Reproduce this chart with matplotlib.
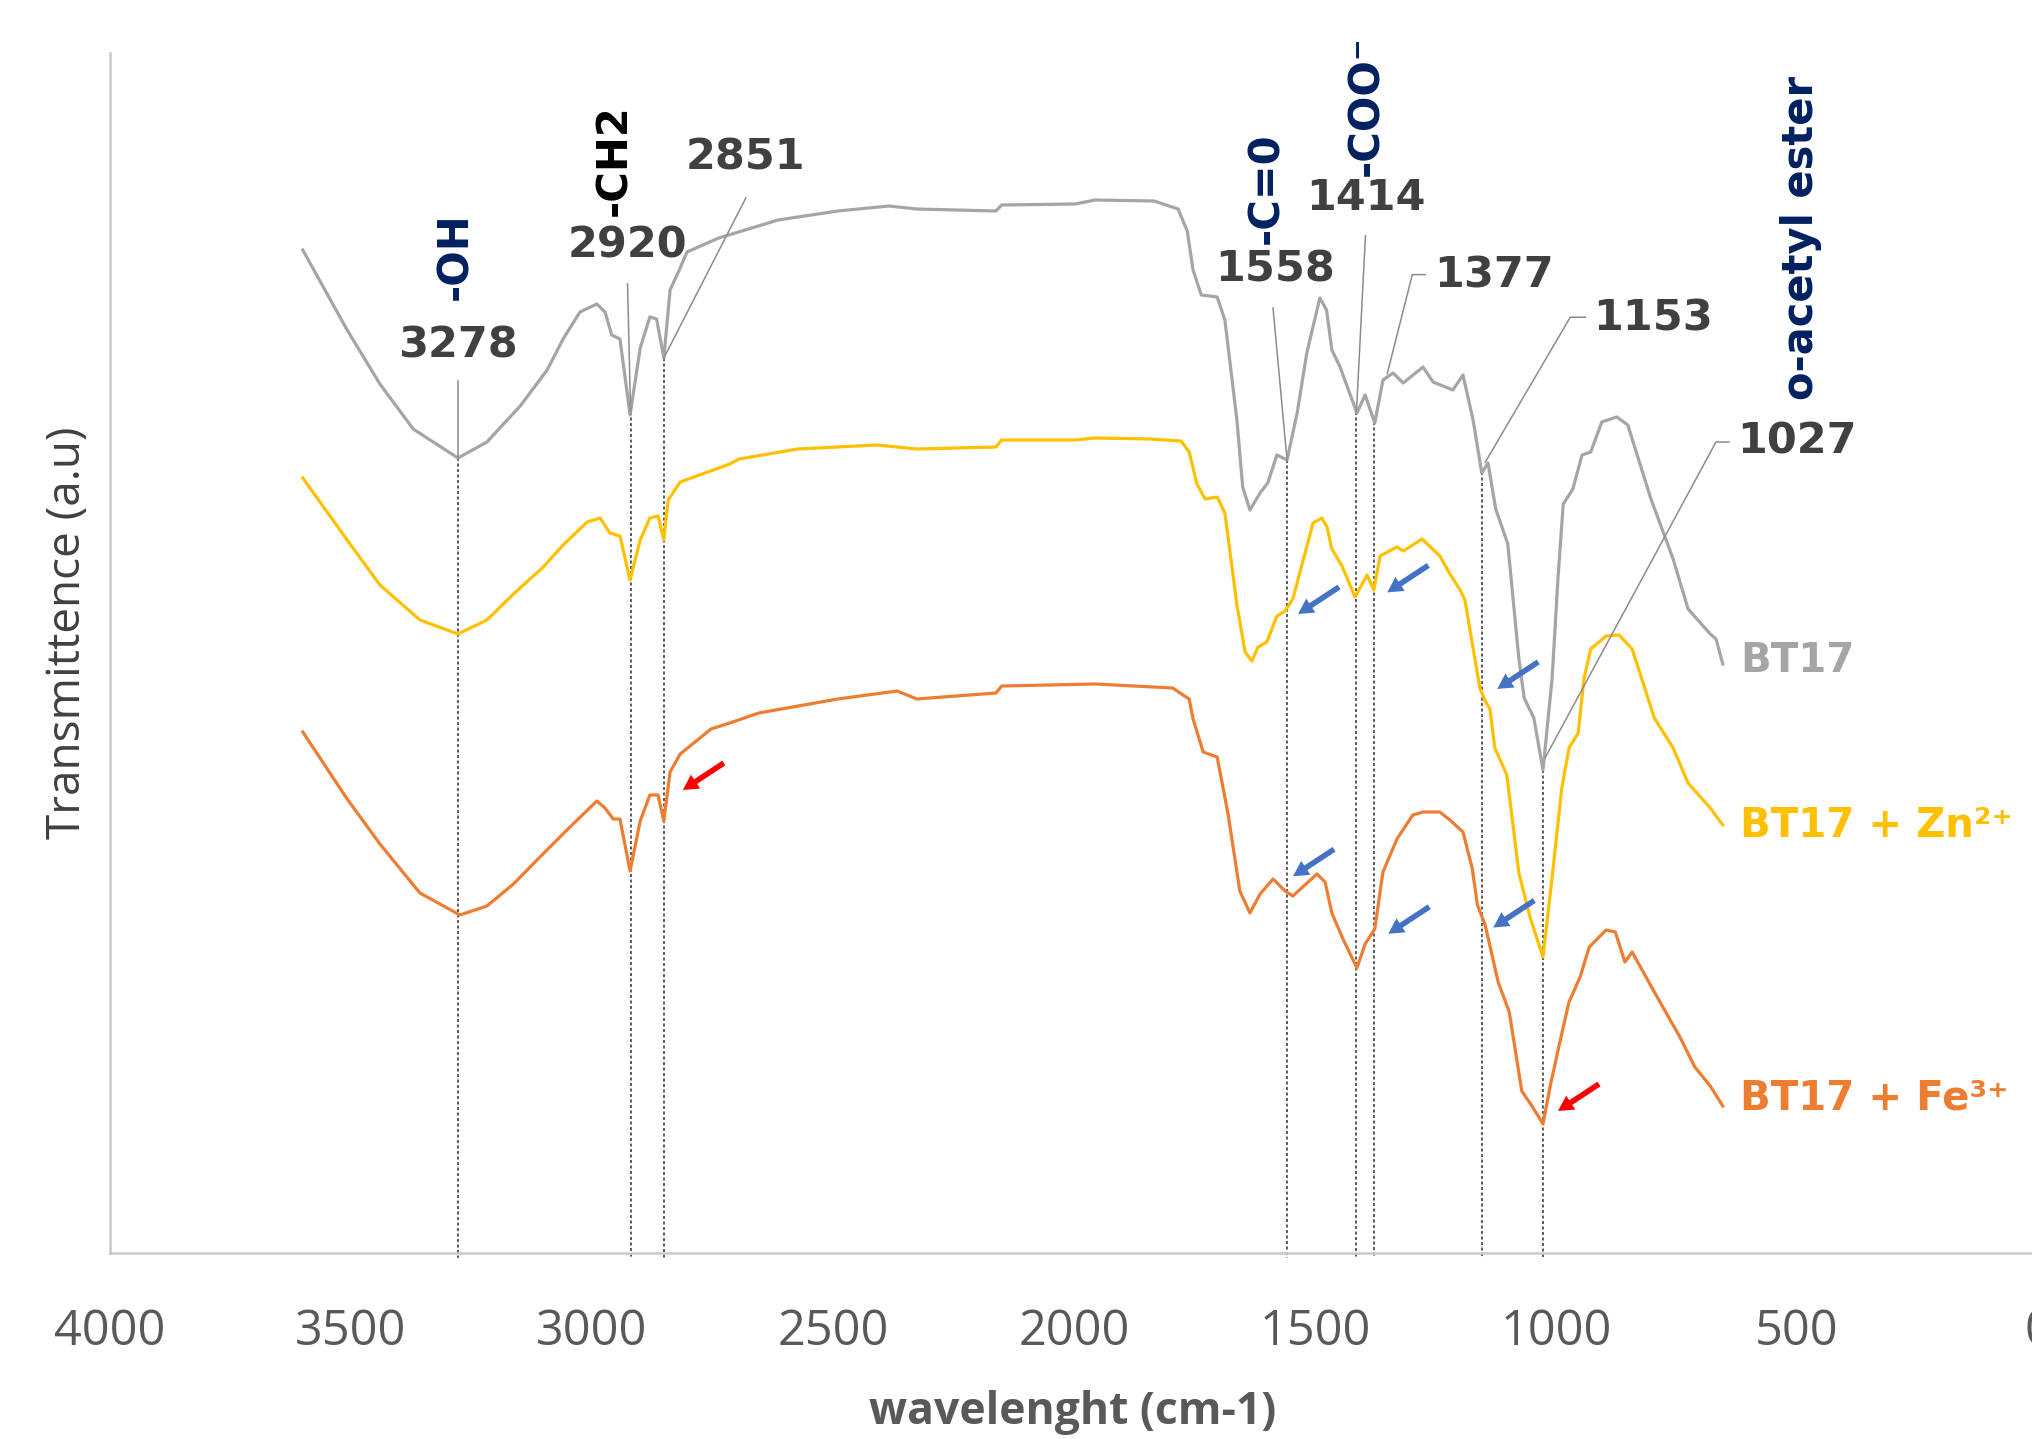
import numpy as np
import matplotlib
matplotlib.use("Agg")
import matplotlib.pyplot as plt

# FTIR spectra: wavenumber (cm-1) and transmittance (a.u.)
wn_bt17 = [3600, 3508, 3440, 3371, 3278, 3218, 3149, 3093, 3060, 3025,
           2990, 2973, 2959, 2942, 2921, 2900, 2880, 2866, 2851, 2838,
           2817, 2803, 2737, 2614, 2490, 2384, 2326, 2162, 2150, 1998,
           1956, 1834, 1784, 1765, 1753, 1736, 1703, 1687, 1662, 1650,
           1635, 1614, 1598, 1579, 1558, 1537, 1517, 1490, 1476, 1465,
           1448, 1413, 1396, 1376, 1359, 1338, 1317, 1276, 1255, 1214,
           1193, 1172, 1154, 1141, 1125, 1100, 1077, 1066, 1046, 1027,
           1008, 996, 985, 965, 946, 928, 905, 874, 851, 803,
           757, 726, 680, 668, 654]
t_bt17 = [100.3, 92.3, 86.9, 82.4, 79.5, 81.1, 84.7, 88.3, 91.4, 94.1,
          94.9, 94.1, 91.8, 91.4, 83.8, 90.5, 93.6, 93.4, 89.5, 96.3,
          98.5, 100.1, 101.5, 103.3, 104.2, 104.7, 104.4, 104.2, 104.8, 104.9,
          105.3, 105.2, 104.4, 102.2, 98.3, 95.8, 95.6, 93.3, 83.3, 76.6,
          74.3, 76.0, 77.0, 79.8, 79.3, 84.0, 90.0, 95.5, 94.3, 90.3,
          88.6, 84.0, 85.8, 83.0, 87.3, 88.0, 87.0, 88.6, 87.1, 86.3,
          87.8, 83.3, 78.0, 79.0, 74.4, 70.9, 59.4, 55.5, 53.5, 48.3,
          57.5, 67.4, 74.9, 76.4, 79.8, 80.1, 83.1, 83.6, 82.8, 75.4,
          69.4, 64.4, 61.9, 61.4, 58.9]

wn_zn = [3600, 3508, 3440, 3357, 3278, 3218, 3163, 3101, 3060, 3010,
         2983, 2963, 2942, 2921, 2900, 2880, 2863, 2851, 2842, 2817,
         2714, 2695, 2573, 2409, 2326, 2162, 2150, 1998, 1956, 1842,
         1778, 1761, 1745, 1728, 1703, 1687, 1662, 1645, 1631, 1618,
         1600, 1579, 1562, 1546, 1525, 1504, 1486, 1475, 1465, 1444,
         1417, 1392, 1378, 1365, 1330, 1317, 1278, 1241, 1220, 1199,
         1189, 1158, 1147, 1137, 1127, 1102, 1077, 1054, 1027, 1008,
         988, 973, 954, 942, 928, 896, 869, 842, 796, 757,
         726, 680, 654]
t_zn = [77.5, 71.3, 66.8, 63.3, 61.9, 63.3, 65.9, 68.6, 70.8, 73.1,
        73.5, 72.0, 71.7, 67.3, 71.3, 73.5, 73.7, 71.3, 75.3, 77.1,
        78.9, 79.4, 80.4, 80.8, 80.4, 80.6, 81.3, 81.3, 81.5, 81.4,
        81.2, 80.1, 76.9, 75.4, 75.6, 74.0, 64.8, 60.1, 59.2, 60.6,
        61.1, 63.7, 64.2, 65.4, 69.2, 73.0, 73.5, 72.6, 70.4, 68.7,
        65.6, 67.8, 66.3, 69.7, 70.6, 70.2, 71.4, 69.7, 67.9, 66.3,
        65.3, 56.5, 55.2, 54.4, 50.5, 47.8, 38.0, 33.6, 29.6, 37.6,
        46.5, 50.5, 52.0, 57.4, 60.4, 61.7, 61.8, 60.4, 53.5, 50.5,
        47.0, 44.5, 42.8]

wn_fe = [3600, 3508, 3440, 3357, 3274, 3218, 3163, 3108, 3052, 2990,
         2973, 2956, 2942, 2921, 2900, 2880, 2863, 2851, 2838, 2817,
         2753, 2714, 2654, 2490, 2367, 2326, 2162, 2150, 1956, 1795,
         1774, 1761, 1753, 1732, 1703, 1680, 1656, 1635, 1614, 1587,
         1562, 1546, 1496, 1479, 1465, 1442, 1413, 1396, 1376, 1359,
         1330, 1297, 1276, 1241, 1220, 1193, 1174, 1163, 1147, 1120,
         1097, 1071, 1050, 1027, 1012, 992, 973, 950, 931, 896,
         877, 857, 842, 796, 743, 712, 680, 654]
t_fe = [52.1, 45.4, 40.9, 36.0, 33.8, 34.7, 36.9, 39.6, 42.3, 45.2,
        44.5, 43.4, 43.4, 38.2, 43.2, 45.8, 45.8, 43.2, 48.1, 49.9,
        52.4, 53.0, 54.0, 55.4, 56.2, 55.4, 56.0, 56.7, 56.9, 56.5,
        55.8, 55.4, 53.4, 50.1, 49.6, 43.8, 36.2, 34.0, 35.9, 37.4,
        36.2, 35.7, 37.9, 37.1, 34.0, 31.4, 28.5, 30.9, 32.4, 38.1,
        41.4, 43.8, 44.1, 44.1, 43.3, 42.1, 38.5, 34.8, 32.8, 27.1,
        24.1, 16.2, 14.7, 12.9, 16.7, 21.1, 25.1, 27.6, 30.6, 32.3,
        32.1, 29.1, 30.1, 26.1, 21.6, 18.6, 16.7, 14.7]

series_names = ["BT17", "BT17 + Zn²⁺", "BT17 + Fe³⁺"]
series_colors = ["#a5a5a5", "#ffc000", "#ed7d31"]

# marked bands (cm-1) and functional groups
peaks = [3278, 2920, 2851, 1558, 1414, 1377, 1153, 1027]
groups = ["-OH", "-CH2", "-C=0", "-COO⁻", "o-acetyl ester"]

x_ticks = [4000, 3500, 3000, 2500, 2000, 1500, 1000, 500, 0]

NUM = "#404040"
NAVY = "#002060"
BLUE = "#4472c4"
RED = "#ff0000"

W, H = 2033, 1439
fig = plt.figure(figsize=(W / 100, H / 100), dpi=100)
ax = fig.add_axes([110 / W, 1 - 1253 / H, 1928 / W, 1200 / H])
ax.set_xlim(4000, 0)
ax.set_ylim(0, 120)

spectra = [(wn_bt17, t_bt17), (wn_zn, t_zn), (wn_fe, t_fe)]
for (wn, t), c in zip(spectra, series_colors):
    ax.plot(wn, t, color=c, lw=2.3, solid_joinstyle="round")

for side in ["top", "right"]:
    ax.spines[side].set_visible(False)
for side in ["left", "bottom"]:
    ax.spines[side].set_color("#c8c8c8")
    ax.spines[side].set_linewidth(1.8)
ax.set_yticks([])
ax.set_xticks(x_ticks)
ax.set_xticklabels([str(v) for v in x_ticks], fontfamily="Open Sans")
ax.tick_params(axis="x", length=0, labelsize=35, labelcolor="#595959", pad=39)

ax.set_xlabel("wavelenght (cm-1)", fontfamily="Open Sans", fontweight="bold",
              fontsize=32, color="#595959", va="center")
ax.xaxis.set_label_coords(0.4995, -0.133)
ax.set_ylabel("Transmittence (a.u)", fontfamily="Open Sans", fontsize=33,
              color="#404040", va="center")
ax.yaxis.set_label_coords(-0.0218, 0.517)


def value(wn, t, x):
    return float(np.interp(x, wn[::-1], t[::-1]))


def shift(x, y, dx, dy):
    # move a data point by (dx right, dy down) pixels
    px, py = ax.transData.transform((x, y))
    return ax.transData.inverted().transform((px + dx, py - dy))


# label centre and leader line, in pixels from the BT17 point
label_pos = {
    3278: ((0, -113), [(0, -77), (0, 0)]),
    2920: ((-3, -166), [(-3, -128), (0, 0)]),
    2851: ((82, -200), [(82, -160), (0, 0)]),
    1558: ((-12, -191), [(-14, -152), (0, 0)]),
    1414: ((9, -214), [(9, -176), (0, 0)]),
    1377: ((120, -146), [(51, -147), (38, -147), (13, -48)]),
    1153: ((171, -154), [(103, -155), (88, -155), (3, -10)]),
    1027: ((254, -328), [(186, -328), (173, -328), (2, -12)]),
}

for p in peaks:
    y0 = value(wn_bt17, t_bt17, p)
    # dotted guide down to the axis
    ax.plot([p, p], [y0, -0.5], color="#303030", lw=1.1,
            ls=(0, (2, 1.6)), clip_on=False, zorder=1)
    (dx, dy), leader = label_pos[p]
    pts = np.array([shift(p, y0, a, b) for a, b in leader])
    ax.plot(pts[:, 0], pts[:, 1], color="#8c8c8c", lw=1.1, clip_on=False)
    ax.annotate(str(p), xy=(p, y0), xytext=(dx, -dy), textcoords="offset pixels",
                ha="center", va="center", fontsize=31, fontweight="bold",
                color=NUM, fontfamily="DejaVu Sans", annotation_clip=False)

# functional groups, rotated, centre in pixels
group_pos = [(455, 256), (614, 160), (1266, 188), (1366, 106), (1801, 238)]
group_colors = [NAVY, "#000000", NAVY, NAVY, NAVY]
for g, (gx, gy), gc in zip(groups, group_pos, group_colors):
    fig.text(gx / W, 1 - gy / H, g, rotation=90, ha="center", va="center",
             fontsize=30, fontweight="bold", color=gc, fontfamily="DejaVu Sans")

# series names at the right end of each trace
name_dy = [-3, 1, -7]
for (wn, t), name, c, ddy in zip(spectra, series_names, series_colors, name_dy):
    ax.annotate(name, xy=(wn[-1], t[-1]), xytext=(17, -ddy),
                textcoords="offset pixels", ha="left", va="center",
                fontsize=29, fontweight="bold", color=c,
                fontfamily="DejaVu Sans", annotation_clip=False)

# arrows pointing at the shifted bands: series, band, head offset (px), colour
arrows = [
    (1, 1558, 11, 6, BLUE),
    (1, 1377, 13, 5, BLUE),
    (1, 1153, 15, -5, BLUE),
    (2, 1558, 6, -16, BLUE),
    (2, 1377, 14, 4, BLUE),
    (2, 1153, 11, 10, BLUE),
    (2, 2851, 19, -31, RED),
    (2, 1027, 15, -13, RED),
]
for idx, band, hx, hy, c in arrows:
    wn, t = spectra[idx]
    y0 = value(wn, t, band)
    head = shift(band, y0, hx, hy)
    tail = shift(band, y0, hx + 41, hy - 27)
    ax.annotate("", xy=head, xytext=tail, annotation_clip=False,
                arrowprops=dict(arrowstyle="simple,head_length=0.55,head_width=0.6,tail_width=0.2",
                                color=c, mutation_scale=20, shrinkA=0, shrinkB=0, lw=0))

fig.savefig("out.png", dpi=100)
